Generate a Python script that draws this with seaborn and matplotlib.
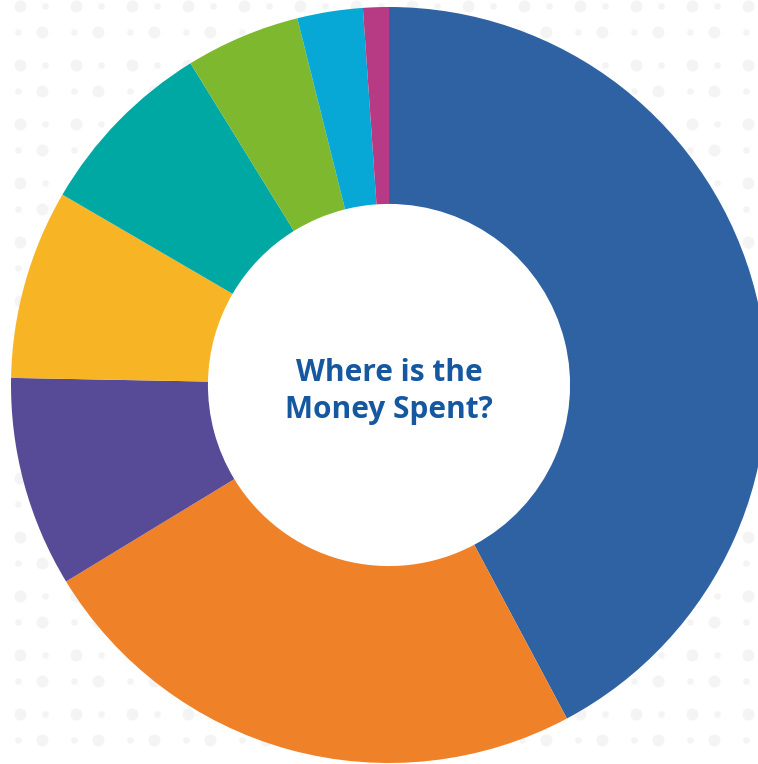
import numpy as np
import matplotlib
matplotlib.use("Agg")
import matplotlib.pyplot as plt
import seaborn as sns
from matplotlib.patches import Circle

categories = ["Category A", "Category B", "Category C", "Category D",
              "Category E", "Category F", "Category G", "Category H"]
values = [42.2, 24.1, 9.0, 8.1, 7.8, 4.9, 2.8, 1.1]
colors = ["#2E62A3", "#EF8228", "#574A96", "#F7B526",
          "#00A8A4", "#7DB82E", "#07A8D6", "#B73A84"]
center_text = "Where is the\nMoney Spent?"

sns.set_style("white")
palette = sns.color_palette(colors)

W, H = 758, 764
fig = plt.figure(figsize=(W / 100, H / 100), dpi=100)
fig.patch.set_facecolor("white")

# decorative dotted background
bg = fig.add_axes([0, 0, 1, 1])
bg.set_xlim(0, W)
bg.set_ylim(H, 0)
bg.axis("off")
big_x, big_y, small_x, small_y = [], [], [], []
for r in range(-1, 15):
    y0 = 6 + r * 59
    y1 = 32 + r * 59
    for c in range(-1, 15):
        big_x.append(20 + c * 56); big_y.append(y0)
        small_x.append(45 + c * 56); small_y.append(y0)
        small_x.append(18 + c * 56); small_y.append(y1)
        big_x.append(42 + c * 56); big_y.append(y1)
bg.scatter(big_x, big_y, s=75, color="#F4F4F4", linewidths=0)
bg.scatter(small_x, small_y, s=22, color="#F4F4F4", linewidths=0)

cx, cy, R = 389, 385, 378
ax = fig.add_axes([(cx - R) / W, (H - cy - R) / H, 2 * R / W, 2 * R / H])
ax.set_facecolor("none")
ax.pie(values, colors=palette, startangle=90, counterclock=False,
       radius=1.0, wedgeprops=dict(width=0.521, linewidth=0))
ax.add_patch(Circle((0, 0), 0.481, facecolor="white", edgecolor="none", zorder=0.5))
ax.set_xlim(-1, 1)
ax.set_ylim(-1, 1)
ax.axis("off")
ax.text(0, -0.018, center_text, ha="center", va="center", fontsize=21.5,
        fontweight="bold", color="#1558A0", family=["Open Sans", "DejaVu Sans"],
        linespacing=1.3, zorder=3)

fig.savefig("out.png", dpi=100)
